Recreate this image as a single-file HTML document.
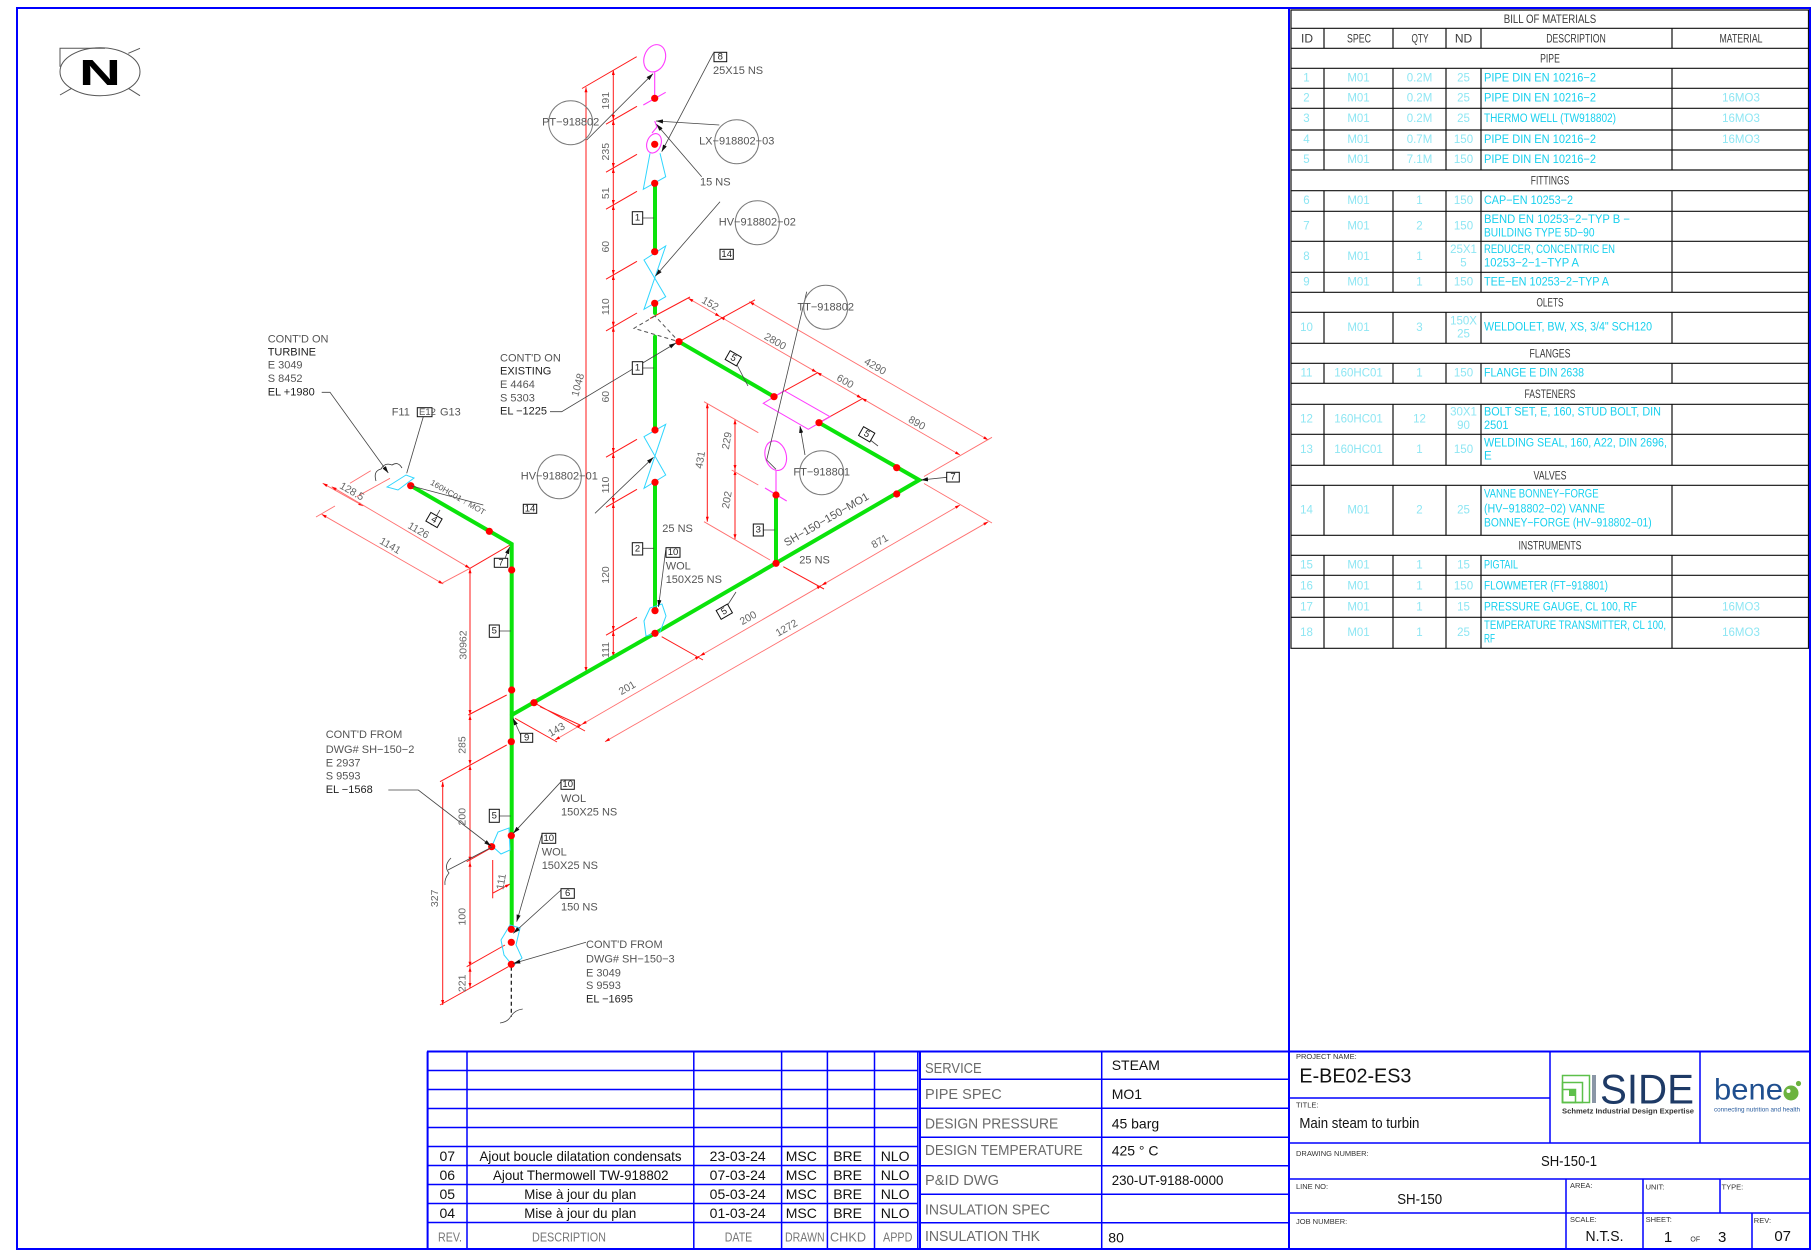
<!DOCTYPE html>
<html><head><meta charset="utf-8"><style>
html,body{margin:0;padding:0;background:#fff;}
svg{display:block;}
.g{stroke:#0be30b;stroke-width:4;fill:none;stroke-linecap:round}
.r{stroke:#ff1a1a;stroke-width:1;fill:none}
.rl{stroke:#ff7070;stroke-width:.9;fill:none}
.rd{marker-start:url(#ra);marker-end:url(#ra)}
.c{stroke:#2fd6ff;stroke-width:1;fill:none}
.m{stroke:#ff3cff;stroke-width:1.1;fill:none}
.k{stroke:#444;stroke-width:.8;fill:none}
.ka{marker-end:url(#ka)}
.bu{stroke:#7a7a7a;stroke-width:1;fill:none}
.bx{stroke:#111;stroke-width:1;fill:#fff}
.bl{stroke:#0000ff;stroke-width:1.5;fill:none}
.bb{stroke:#0000ff;stroke-width:2;fill:none}
.tl{stroke:#111;stroke-width:1.2;fill:none}
text{font-family:"Liberation Sans",sans-serif;dominant-baseline:central}
.t{font-size:11px;fill:#555}
.tk{font-size:11px;fill:#222}
.dt{font-size:10.5px;fill:#666;text-anchor:middle}
.nb{font-size:9.5px;fill:#222;text-anchor:middle}
.bh{font-size:12px;fill:#3a3a3a;text-anchor:middle}
.bv{font-size:11.5px;fill:#8ee6f3;text-anchor:middle}
.bd{font-size:11.5px;fill:#18d0ee}
.sl{font-size:15px;fill:#6a6a6a}
.sv{font-size:14px;fill:#111}
.rv{font-size:14px;fill:#111}
.rh{font-size:12.5px;fill:#777;text-anchor:middle}
.sm{font-size:7.5px;fill:#333}
</style></head><body>
<svg width="1813" height="1255" viewBox="0 0 1813 1255" xmlns="http://www.w3.org/2000/svg">
<defs>
<marker id="ka" viewBox="0 0 10 6" refX="10" refY="3" markerWidth="7" markerHeight="4.2" orient="auto-start-reverse" markerUnits="userSpaceOnUse"><path d="M0,0L10,3L0,6Z" fill="#111"/></marker>
<marker id="ra" viewBox="0 0 10 6" refX="10" refY="3" markerWidth="6" markerHeight="3" orient="auto-start-reverse" markerUnits="userSpaceOnUse"><path d="M0,0L10,3L0,6Z" fill="#f00"/></marker>
</defs>
<rect x="0" y="0" width="1813" height="1255" fill="#fff"/>

<!-- North symbol -->
<ellipse cx="100" cy="71.7" rx="40" ry="24" fill="none" stroke="#555" stroke-width="1"/>
<path d="M60,66.7V48.3H105M128.3,53.3L140,48.3M60,95L71.7,88.3M128.3,88.3L140,95.7" stroke="#555" fill="none" stroke-width="1"/>
<text x="79" y="72.5" font-size="36" font-weight="bold" fill="#000" textLength="42" lengthAdjust="spacingAndGlyphs">N</text>

<!-- ============ RED DIMENSIONS ============ -->
<path class="r rd" d="M586,87.3V672"/>
<path class="r rd" d="M613.3,70V120"/><path class="r rd" d="M613.3,120V168"/><path class="r rd" d="M613.3,168V205"/>
<path class="r rd" d="M613.3,205V275"/><path class="r rd" d="M613.3,275V326.7"/><path class="r rd" d="M613.3,326.7V453"/>
<path class="r rd" d="M613.3,453V503"/><path class="r rd" d="M613.3,503V631"/><path class="r rd" d="M613.3,631V657"/>
<path class="r" d="M582,88.5L636.7,56.7M606,124.2L637,106.3M606,172.2L637,154.3M606,209.2L637,191.3M606,279.2L637,261.3M606,330.9L637,313M606,457.2L637,439.3M606,507.2L637,489.3M606,635.2L637,617.3"/>
<!-- loop dims -->
<path class="rl rd" d="M688.3,298.3L720,316.6"/><path class="rl rd" d="M720,316.6L816.7,372.3"/><path class="rl rd" d="M816.7,372.3L861.7,398.2"/><path class="rl rd" d="M861.7,398.2L960,455"/>
<path class="rl rd" d="M749.3,301.7L988.3,440"/>
<path class="r" d="M650,318.5L690,297M679,341.7L755,299.8M774,396.7L818,372.5M819,422.7L863,398.3"/>
<path class="rl" d="M924,476.5L992,437.3M924,483.5L992,523"/>
<path class="rl rd" d="M555,740L581.7,724.5"/><path class="rl rd" d="M581.7,724.5L700,655.9"/><path class="rl rd" d="M700,655.9L821.7,585.3"/><path class="rl rd" d="M821.7,585.3L960,505"/>
<path class="rl rd" d="M605,741.7L988.3,521.7"/>
<path class="r" d="M515,718.3L557,742M534,702.7L585,731M661.7,636.7L703,660M783.3,566.7L824,589M540,706.7L580,725"/>
<!-- 431 / 229 / 202 -->
<path class="r rd" d="M707.3,403.3V521.7"/><path class="r rd" d="M735,419.3V470"/><path class="r rd" d="M735,470V539.3"/>
<path class="rl" d="M704,401.7L758.3,432.7M704,521.7L770,560M731.7,470L758.3,485"/>
<!-- left branch dims -->
<path class="rl rd" d="M322.7,483.3L363.3,506"/>
<path class="rl rd" d="M331.7,486.7L470,568.3"/>
<path class="rl rd" d="M321.7,514.3L443.3,584"/>
<path class="rl" d="M350,483.3L370.7,470.7M356.7,496.7L390,478.3M441.7,583.3L470,568.3M316,517L335,506"/>
<path class="r" d="M470,568.3L511.7,544"/>
<path class="r rd" d="M470,568.3V715"/><path class="r rd" d="M470,715V765"/><path class="r rd" d="M470,765V861.7"/><path class="r rd" d="M470,861.7V966.7"/><path class="r rd" d="M470,966.7V988"/>
<path class="r rd" d="M442.7,781.7V1005"/>
<path class="r" d="M468.3,715L506.7,695M440,781.7L506.7,745M466.7,861.7L493.3,846.7M466.7,966.7L505,945M440,1005L508.3,966.7"/>
<path class="r" d="M492.7,860V898.3"/><path class="r" d="M493,893L510,884" marker-end="url(#ra)"/>

<!-- ============ PIPES ============ -->
<path class="g" d="M655,183.3V251.7M655,303.3V313M655,336.7V430M655,482.3V610.7M679,341.7L774,396.7M819,422.7L919.3,480L655,633.3L511.7,715M410.7,485.7L511.7,544V929.3M776,495V563.3"/>
<!-- tee dashed -->
<path d="M655,316L634,328.3L679,341.7Z" stroke="#555" stroke-width="1" stroke-dasharray="4,3" fill="none"/>
<!-- cyan fittings -->
<path class="c" d="M650,153.3L643.3,189.3L665.7,176.7L660,153.3"/>
<path class="c" d="M644,260L665.7,246L644,309.3L665.7,296.7Z"/>
<path class="c" d="M644,436.7L665.7,424.3L644,488.3L665.7,475Z"/>
<path class="c" d="M646,636L644,621L650,608L662,604L666,616L660,632Z"/>
<path class="c" d="M387,487L406,475L414,478L398,490Z"/>
<path class="c" d="M492,846L498,832L509,828L510,850L501,854Z"/>
<path class="c" d="M501,940L510,925L520,928L516,945L522,958L513,966L504,955Z"/>
<!-- magenta instruments -->
<ellipse class="m" cx="654.7" cy="58.3" rx="10.5" ry="14" transform="rotate(20 654.7 58.3)"/>
<path class="m" d="M654.7,72.3V98.3M643.3,105L665.7,92.3"/>
<ellipse class="m" cx="654" cy="143.3" rx="7" ry="10" transform="rotate(20 654 143.3)"/>
<path class="m" d="M654.7,121L657,127L652,133"/>
<path class="m" d="M763.3,403.3L784.3,390.7L830,416.7L808.3,429.3Z"/>
<ellipse class="m" cx="775.7" cy="455.7" rx="10.5" ry="15" transform="rotate(-15 775.7 455.7)"/>
<path class="m" d="M776,470.7V495M765,488L786.7,501"/>
<!-- weld cloud -->
<path d="M376,481Q373,471 381,469Q385,462 392,465Q398,461 402,468" stroke="#333" stroke-width=".8" fill="none"/>
<!-- dashed end + break -->
<path d="M511.3,966.7V1016.7" stroke="#111" stroke-width="1.2" stroke-dasharray="4,3"/>
<path d="M500,1023Q508,1022 511,1016Q515,1010 522.7,1009" stroke="#444" stroke-width=".8" fill="none"/>
<path d="M451,858Q443,866 449,873Q444,879 445,885" stroke="#444" stroke-width=".8" fill="none"/>

<!-- red dots -->
<g fill="#ff0000">
<circle cx="654.7" cy="98.3" r="3.6"/><circle cx="654.7" cy="144.3" r="3.6"/><circle cx="654.7" cy="183.3" r="3.6"/>
<circle cx="654.7" cy="251.7" r="3.6"/><circle cx="654.7" cy="303.3" r="3.6"/><circle cx="679" cy="341.7" r="3.6"/>
<circle cx="774" cy="396.7" r="3.6"/><circle cx="819" cy="422.7" r="3.6"/><circle cx="896.7" cy="467.7" r="3.6"/>
<circle cx="896.7" cy="494" r="3.6"/><circle cx="776" cy="495" r="3.6"/><circle cx="776" cy="563.3" r="3.6"/>
<circle cx="655" cy="430" r="3.6"/><circle cx="655" cy="482.3" r="3.6"/><circle cx="655" cy="610.7" r="3.6"/>
<circle cx="655" cy="633.3" r="3.6"/><circle cx="534" cy="702.7" r="3.6"/><circle cx="410.7" cy="485.7" r="3.6"/>
<circle cx="489.3" cy="531.3" r="3.6"/><circle cx="511.7" cy="570" r="3.6"/><circle cx="511.7" cy="690" r="3.6"/>
<circle cx="511.3" cy="741.7" r="3.6"/><circle cx="511.3" cy="835.7" r="3.6"/><circle cx="491.7" cy="846.7" r="3.6"/>
<circle cx="511.3" cy="929.3" r="3.6"/><circle cx="511.3" cy="942.3" r="3.6"/><circle cx="511.3" cy="964.3" r="3.6"/>
</g>

<!-- leaders -->
<path class="k ka" d="M586.7,140L653,73.7"/>
<path class="k ka" d="M713.3,53.3L661.7,151.7"/>
<path class="k ka" d="M719.3,125L656,121"/>
<path class="k ka" d="M701.7,176.7L656.5,124.3"/>
<path class="k ka" d="M720,201.7L655.5,276"/>
<path class="k ka" d="M550,411.7H561.7L676,343"/>
<path class="k ka" d="M595,513.3L653.5,457.3"/>
<path class="k" d="M806.7,291.7L766.7,460L776,469.3"/>
<path class="k ka" d="M805,455L800,426"/>
<path class="k ka" d="M946.7,477.3L921,480"/>
<path class="k ka" d="M665.7,550L658.5,607"/>
<path class="k ka" d="M520.7,735L513,718.3"/>
<path class="k ka" d="M505,558.3L509.7,547"/>
<path class="k ka" d="M321.7,392.3H330L388.3,473"/>
<path class="k" d="M423.3,416.7L406.7,473.3"/>
<path class="k" d="M410.7,485.7L483.3,505"/>
<path class="k ka" d="M388.3,790H418.3L491,846"/>
<path class="k ka" d="M561,781.7L513.3,833.3"/>
<path class="k ka" d="M541.7,835L516.7,921.7"/>
<path class="k ka" d="M561,890L513.3,933.3"/>
<path class="k ka" d="M586,942.3L513.3,963.5"/>
<path class="k" d="M448,870L492,847"/>
<path class="k" d="M642.7,218H654M642.7,368H654M642.7,548.3H654M763.3,530H775M499.3,631H511M499.3,816H511M736,363L748,386M869,439L878,446M727,606L736,592M431,525L440,510"/>

<!-- bubbles -->
<g class="bu"><circle cx="570.7" cy="122.7" r="22"/><circle cx="736.7" cy="141.7" r="22"/><circle cx="757.3" cy="222.7" r="22"/><circle cx="825.7" cy="307.3" r="22"/><circle cx="559.3" cy="476.7" r="22"/><circle cx="821.7" cy="472.7" r="22"/></g>
<g class="t" text-anchor="middle">
<text x="570.7" y="122.7">PT−918802</text><text x="736.7" y="141.7">LX−918802−03</text><text x="757.3" y="222.7">HV−918802−02</text>
<text x="825.7" y="307.3">TT−918802</text><text x="559.3" y="476.7">HV−918802−01</text><text x="821.7" y="472.7">FT−918801</text>
</g>

<!-- number boxes -->
<g>
<rect class="bx" x="714" y="52.3" width="12.7" height="9.4"/><text class="nb" x="720.3" y="57">8</text>
<rect class="bx" x="720" y="249.3" width="13.3" height="10"/><text class="nb" x="726.7" y="254.3">14</text>
<rect class="bx" x="632.3" y="211.7" width="10.4" height="12.6"/><text class="nb" x="637.5" y="218">1</text>
<rect class="bx" x="632.3" y="361.7" width="10.4" height="12.6"/><text class="nb" x="637.5" y="368">1</text>
<rect class="bx" x="523.3" y="504.3" width="13.4" height="9"/><text class="nb" x="530" y="508.8">14</text>
<rect class="bx" x="632.3" y="542.7" width="10.4" height="12.3"/><text class="nb" x="637.5" y="548.8">2</text>
<rect class="bx" x="666" y="547.7" width="14" height="9.6"/><text class="nb" x="673" y="552.5">10</text>
<rect class="bx" x="753.3" y="524" width="10" height="12"/><text class="nb" x="758.3" y="530">3</text>
<rect class="bx" x="946.7" y="472.3" width="12.6" height="9.7"/><text class="nb" x="953" y="477.2">7</text>
<rect class="bx" x="494.3" y="558.3" width="13.4" height="9"/><text class="nb" x="501" y="562.8">7</text>
<rect class="bx" x="489.3" y="625" width="10" height="12.3"/><text class="nb" x="494.3" y="631.2">5</text>
<rect class="bx" x="520.7" y="733.3" width="12" height="9"/><text class="nb" x="526.7" y="737.8">9</text>
<rect class="bx" x="489.3" y="809.3" width="10" height="13"/><text class="nb" x="494.3" y="815.8">5</text>
<rect class="bx" x="561" y="780" width="13.3" height="9.3"/><text class="nb" x="567.7" y="784.7">10</text>
<rect class="bx" x="542" y="833.3" width="13.7" height="10"/><text class="nb" x="548.8" y="838.3">10</text>
<rect class="bx" x="561" y="888.7" width="13.3" height="9.6"/><text class="nb" x="567.7" y="893.5">6</text>
<rect class="bx" x="417.3" y="407.7" width="14.7" height="9"/>
<g transform="rotate(30 733.3 358.3)"><rect class="bx" x="726.8" y="353.3" width="13" height="10"/><text class="nb" x="733.3" y="358.3">5</text></g>
<g transform="rotate(30 866.7 434.3)"><rect class="bx" x="860.2" y="429.3" width="13" height="10"/><text class="nb" x="866.7" y="434.3">5</text></g>
<g transform="rotate(-30 724.3 611.7)"><rect class="bx" x="717.8" y="606.7" width="13" height="10"/><text class="nb" x="724.3" y="611.7">5</text></g>
<g transform="rotate(30 434 520)"><rect class="bx" x="427.5" y="515" width="13" height="10"/><text class="nb" x="434" y="520">4</text></g>
</g>

<!-- labels -->
<g class="t">
<text x="713" y="71">25X15  NS</text>
<text x="700" y="182.3">15  NS</text>
<text x="662.3" y="529">25  NS</text>
<text x="665.7" y="566.7">WOL</text><text x="665.7" y="580">150X25  NS</text>
<text x="799.3" y="560.7">25  NS</text>
<text x="561" y="799">WOL</text><text x="561" y="812.3">150X25  NS</text>
<text x="541.7" y="852.7">WOL</text><text x="541.7" y="866">150X25  NS</text>
<text x="561" y="907.3">150  NS</text>
<text x="391.7" y="412.3">F11</text><text x="419" y="412.3" font-size="9.5">E12</text><text x="440" y="412.3">G13</text>
<text x="267.7" y="339.3">CONT'D  ON</text><text x="267.7" y="352.7" fill="#222">TURBINE</text><text x="267.7" y="365.7">E  3049</text><text x="267.7" y="379">S  8452</text><text x="267.7" y="392.3" fill="#222">EL  +1980</text>
<text x="500" y="358.3">CONT'D  ON</text><text x="500" y="371.7" fill="#222">EXISTING</text><text x="500" y="385">E  4464</text><text x="500" y="398.3">S  5303</text><text x="500" y="411.7" fill="#222">EL  −1225</text>
<text x="325.7" y="735">CONT'D  FROM</text><text x="325.7" y="750">DWG#  SH−150−2</text><text x="325.7" y="763.3">E  2937</text><text x="325.7" y="776.7">S  9593</text><text x="325.7" y="790" fill="#222">EL  −1568</text>
<text x="586" y="945">CONT'D  FROM</text><text x="586" y="959.3">DWG#  SH−150−3</text><text x="586" y="973.3">E  3049</text><text x="586" y="986">S  9593</text><text x="586" y="999.3" fill="#222">EL  −1695</text>
<text x="826.7" y="520" text-anchor="middle" transform="rotate(-30 826.7 520)" textLength="96" lengthAdjust="spacingAndGlyphs">SH−150−150−MO1</text>
<text x="431" y="482" font-size="8" transform="rotate(30 431 482)" textLength="62" lengthAdjust="spacingAndGlyphs">160HC01 ↑ MOT</text>
</g>

<!-- dimension texts -->
<g class="dt">
<text x="606" y="100.7" transform="rotate(-90 606 100.7)">191</text>
<text x="606" y="151.7" transform="rotate(-90 606 151.7)">235</text>
<text x="606" y="193.3" transform="rotate(-90 606 193.3)">51</text>
<text x="606" y="246.7" transform="rotate(-90 606 246.7)">60</text>
<text x="606" y="306.7" transform="rotate(-90 606 306.7)">110</text>
<text x="606" y="396.7" transform="rotate(-90 606 396.7)">60</text>
<text x="606" y="485" transform="rotate(-90 606 485)">110</text>
<text x="606" y="575" transform="rotate(-90 606 575)">120</text>
<text x="606" y="650" transform="rotate(-90 606 650)">111</text>
<text x="578.3" y="385" transform="rotate(-75 578.3 385)">1048</text>
<text x="700.7" y="460" transform="rotate(-80 700.7 460)">431</text>
<text x="727.3" y="440.7" transform="rotate(-80 727.3 440.7)">229</text>
<text x="727.3" y="500" transform="rotate(-80 727.3 500)">202</text>
<text x="463.3" y="645" transform="rotate(-90 463.3 645)">30962</text>
<text x="462.7" y="745" transform="rotate(-90 462.7 745)">285</text>
<text x="462.7" y="816.7" transform="rotate(-90 462.7 816.7)">200</text>
<text x="462.7" y="916.7" transform="rotate(-90 462.7 916.7)">100</text>
<text x="462.7" y="983.3" transform="rotate(-90 462.7 983.3)">221</text>
<text x="435" y="898.3" transform="rotate(-90 435 898.3)">327</text>
<text x="501.7" y="881.7" transform="rotate(-80 501.7 881.7)">111</text>
<text x="710" y="304" transform="rotate(30 710 304)">152</text>
<text x="775" y="341.7" transform="rotate(30 775 341.7)">2800</text>
<text x="875" y="366.7" transform="rotate(30 875 366.7)">4290</text>
<text x="845" y="381.7" transform="rotate(30 845 381.7)">600</text>
<text x="916.7" y="423.3" transform="rotate(30 916.7 423.3)">890</text>
<text x="351.7" y="491.7" transform="rotate(30 351.7 491.7)">128.5</text>
<text x="418.3" y="530.7" transform="rotate(30 418.3 530.7)">1126</text>
<text x="390" y="546" transform="rotate(30 390 546)">1141</text>
<text x="880" y="541.7" transform="rotate(-30 880 541.7)">871</text>
<text x="786.7" y="628.3" transform="rotate(-30 786.7 628.3)">1272</text>
<text x="748.3" y="618.3" transform="rotate(-30 748.3 618.3)">200</text>
<text x="627.3" y="688.3" transform="rotate(-30 627.3 688.3)">201</text>
<text x="556.7" y="730" transform="rotate(-30 556.7 730)">143</text>
</g>

<!-- ============ BILL OF MATERIALS ============ -->
<g class="tl">
<path d="M1291,10H1808.5V648.3H1291Z"/>
<path d="M1291,28.3H1808.5M1291,48.3H1808.5M1291,68.3H1808.5M1291,88.3H1808.5M1291,108.3H1808.5M1291,130H1808.5M1291,150H1808.5M1291,170H1808.5M1291,190.7H1808.5M1291,211.3H1808.5M1291,241.3H1808.5M1291,272.3H1808.5M1291,292.3H1808.5M1291,312.3H1808.5M1291,343.3H1808.5M1291,363.3H1808.5M1291,383.3H1808.5M1291,404.3H1808.5M1291,434.3H1808.5M1291,465.3H1808.5M1291,485.3H1808.5M1291,535.3H1808.5M1291,555.3H1808.5M1291,575.3H1808.5M1291,597.3H1808.5M1291,617.3H1808.5"/>
<path d="M1324,28.3V48.3M1393,28.3V48.3M1446,28.3V48.3M1481,28.3V48.3M1672,28.3V48.3
M1324,68.3V170M1393,68.3V170M1446,68.3V170M1481,68.3V170M1672,68.3V170
M1324,190.7V292.3M1393,190.7V292.3M1446,190.7V292.3M1481,190.7V292.3M1672,190.7V292.3
M1324,312.3V343.3M1393,312.3V343.3M1446,312.3V343.3M1481,312.3V343.3M1672,312.3V343.3
M1324,363.3V383.3M1393,363.3V383.3M1446,363.3V383.3M1481,363.3V383.3M1672,363.3V383.3
M1324,404.3V465.3M1393,404.3V465.3M1446,404.3V465.3M1481,404.3V465.3M1672,404.3V465.3
M1324,485.3V535.3M1393,485.3V535.3M1446,485.3V535.3M1481,485.3V535.3M1672,485.3V535.3
M1324,555.3V648.3M1393,555.3V648.3M1446,555.3V648.3M1481,555.3V648.3M1672,555.3V648.3"/>
</g>
<g class="bh">
<text x="1550" y="18.8" textLength="92.5" lengthAdjust="spacingAndGlyphs">BILL  OF  MATERIALS</text>
<text x="1307" y="38.3">ID</text><text x="1359" y="38.3" textLength="24" lengthAdjust="spacingAndGlyphs">SPEC</text>
<text x="1420" y="38.3" textLength="17" lengthAdjust="spacingAndGlyphs">QTY</text><text x="1463.5" y="38.3">ND</text>
<text x="1576" y="38.3" textLength="59.6" lengthAdjust="spacingAndGlyphs">DESCRIPTION</text>
<text x="1741" y="38.3" textLength="43" lengthAdjust="spacingAndGlyphs">MATERIAL</text>
<text x="1550" y="58.3" textLength="19.7" lengthAdjust="spacingAndGlyphs">PIPE</text>
<text x="1550" y="180.3" textLength="38.4" lengthAdjust="spacingAndGlyphs">FITTINGS</text>
<text x="1550" y="302.3" textLength="27" lengthAdjust="spacingAndGlyphs">OLETS</text>
<text x="1550" y="353.3" textLength="41" lengthAdjust="spacingAndGlyphs">FLANGES</text>
<text x="1550" y="393.8" textLength="51" lengthAdjust="spacingAndGlyphs">FASTENERS</text>
<text x="1550" y="475.3" textLength="33" lengthAdjust="spacingAndGlyphs">VALVES</text>
<text x="1550" y="545.3" textLength="63" lengthAdjust="spacingAndGlyphs">INSTRUMENTS</text>
</g>
<g class="bv">
<text x="1306.5" y="78.3">1</text><text x="1358.5" y="78.3">M01</text><text x="1419.5" y="78.3">0.2M</text><text x="1463.5" y="78.3">25</text>
<text x="1306.5" y="98.3">2</text><text x="1358.5" y="98.3">M01</text><text x="1419.5" y="98.3">0.2M</text><text x="1463.5" y="98.3">25</text><text x="1741" y="98.3">16MO3</text>
<text x="1306.5" y="119.2">3</text><text x="1358.5" y="119.2">M01</text><text x="1419.5" y="119.2">0.2M</text><text x="1463.5" y="119.2">25</text><text x="1741" y="119.2">16MO3</text>
<text x="1306.5" y="140">4</text><text x="1358.5" y="140">M01</text><text x="1419.5" y="140">0.7M</text><text x="1463.5" y="140">150</text><text x="1741" y="140">16MO3</text>
<text x="1306.5" y="160">5</text><text x="1358.5" y="160">M01</text><text x="1419.5" y="160">7.1M</text><text x="1463.5" y="160">150</text>
<text x="1306.5" y="201">6</text><text x="1358.5" y="201">M01</text><text x="1419.5" y="201">1</text><text x="1463.5" y="201">150</text>
<text x="1306.5" y="226.3">7</text><text x="1358.5" y="226.3">M01</text><text x="1419.5" y="226.3">2</text><text x="1463.5" y="226.3">150</text>
<text x="1306.5" y="256.8">8</text><text x="1358.5" y="256.8">M01</text><text x="1419.5" y="256.8">1</text><text x="1463.5" y="250">25X1</text><text x="1463.5" y="263.3">5</text>
<text x="1306.5" y="282.3">9</text><text x="1358.5" y="282.3">M01</text><text x="1419.5" y="282.3">1</text><text x="1463.5" y="282.3">150</text>
<text x="1306.5" y="327.8">10</text><text x="1358.5" y="327.8">M01</text><text x="1419.5" y="327.8">3</text><text x="1463.5" y="321.7">150X</text><text x="1463.5" y="334.7">25</text>
<text x="1306.5" y="373.3">11</text><text x="1358.5" y="373.3">160HC01</text><text x="1419.5" y="373.3">1</text><text x="1463.5" y="373.3">150</text>
<text x="1306.5" y="419.3">12</text><text x="1358.5" y="419.3">160HC01</text><text x="1419.5" y="419.3">12</text><text x="1463.5" y="412.7">30X1</text><text x="1463.5" y="426">90</text>
<text x="1306.5" y="449.8">13</text><text x="1358.5" y="449.8">160HC01</text><text x="1419.5" y="449.8">1</text><text x="1463.5" y="449.8">150</text>
<text x="1306.5" y="510.3">14</text><text x="1358.5" y="510.3">M01</text><text x="1419.5" y="510.3">2</text><text x="1463.5" y="510.3">25</text>
<text x="1306.5" y="565.3">15</text><text x="1358.5" y="565.3">M01</text><text x="1419.5" y="565.3">1</text><text x="1463.5" y="565.3">15</text>
<text x="1306.5" y="586.3">16</text><text x="1358.5" y="586.3">M01</text><text x="1419.5" y="586.3">1</text><text x="1463.5" y="586.3">150</text>
<text x="1306.5" y="607.3">17</text><text x="1358.5" y="607.3">M01</text><text x="1419.5" y="607.3">1</text><text x="1463.5" y="607.3">15</text><text x="1741" y="607.3">16MO3</text>
<text x="1306.5" y="632.8">18</text><text x="1358.5" y="632.8">M01</text><text x="1419.5" y="632.8">1</text><text x="1463.5" y="632.8">25</text><text x="1741" y="632.8">16MO3</text>
</g>
<g class="bd">
<text x="1484" y="78.3" textLength="112" lengthAdjust="spacingAndGlyphs">PIPE  DIN  EN  10216−2</text>
<text x="1484" y="98.3" textLength="112" lengthAdjust="spacingAndGlyphs">PIPE  DIN  EN  10216−2</text>
<text x="1484" y="119.2" textLength="132" lengthAdjust="spacingAndGlyphs">THERMO  WELL  (TW918802)</text>
<text x="1484" y="140" textLength="112" lengthAdjust="spacingAndGlyphs">PIPE  DIN  EN  10216−2</text>
<text x="1484" y="160" textLength="112" lengthAdjust="spacingAndGlyphs">PIPE  DIN  EN  10216−2</text>
<text x="1484" y="201" textLength="89" lengthAdjust="spacingAndGlyphs">CAP−EN  10253−2</text>
<text x="1484" y="220" textLength="146" lengthAdjust="spacingAndGlyphs">BEND  EN  10253−2−TYP  B  −</text>
<text x="1484" y="233.3" textLength="110.5" lengthAdjust="spacingAndGlyphs">BUILDING  TYPE  5D−90</text>
<text x="1484" y="250" textLength="131" lengthAdjust="spacingAndGlyphs">REDUCER,  CONCENTRIC  EN</text>
<text x="1484" y="263.3" textLength="95" lengthAdjust="spacingAndGlyphs">10253−2−1−TYP  A</text>
<text x="1484" y="282.3" textLength="125" lengthAdjust="spacingAndGlyphs">TEE−EN  10253−2−TYP  A</text>
<text x="1484" y="327.3" textLength="168" lengthAdjust="spacingAndGlyphs">WELDOLET,  BW,  XS,  3/4"  SCH120</text>
<text x="1484" y="373.3" textLength="100" lengthAdjust="spacingAndGlyphs">FLANGE  E  DIN  2638</text>
<text x="1484" y="412.7" textLength="177" lengthAdjust="spacingAndGlyphs">BOLT  SET,  E,  160,  STUD  BOLT,  DIN</text>
<text x="1484" y="426" textLength="24.5" lengthAdjust="spacingAndGlyphs">2501</text>
<text x="1484" y="443.3" textLength="183" lengthAdjust="spacingAndGlyphs">WELDING  SEAL,  160,  A22,  DIN  2696,</text>
<text x="1484" y="456.7">E</text>
<text x="1484" y="494.3" textLength="114.6" lengthAdjust="spacingAndGlyphs">VANNE  BONNEY−FORGE</text>
<text x="1484" y="509.3" textLength="121" lengthAdjust="spacingAndGlyphs">(HV−918802−02)  VANNE</text>
<text x="1484" y="523.7" textLength="167.7" lengthAdjust="spacingAndGlyphs">BONNEY−FORGE  (HV−918802−01)</text>
<text x="1484" y="565.3" textLength="34" lengthAdjust="spacingAndGlyphs">PIGTAIL</text>
<text x="1484" y="586.3" textLength="124" lengthAdjust="spacingAndGlyphs">FLOWMETER  (FT−918801)</text>
<text x="1484" y="607.3" textLength="153" lengthAdjust="spacingAndGlyphs">PRESSURE  GAUGE,  CL  100,  RF</text>
<text x="1484" y="626" textLength="182" lengthAdjust="spacingAndGlyphs">TEMPERATURE  TRANSMITTER,  CL  100,</text>
<text x="1484" y="639.3" textLength="11" lengthAdjust="spacingAndGlyphs">RF</text>
</g>

<!-- ============ FRAME & BLOCKS ============ -->
<rect class="bb" x="17" y="8" width="1793" height="1241"/>
<path class="bb" d="M1289,8V1249M427,1051.5H1810M427.6,1051.5V1249M920,1051.5V1249"/>
<!-- revision table -->
<path class="bl" d="M467,1051.5V1248M693.8,1051.5V1248M781.6,1051.5V1248M827.4,1051.5V1248M874.5,1051.5V1248M917.8,1051.5V1248
M427.6,1070.5H917.8M427.6,1089.5H917.8M427.6,1108.5H917.8M427.6,1127.5H917.8M427.6,1146.5H917.8M427.6,1165.5H917.8M427.6,1184.5H917.8M427.6,1203.5H917.8M427.6,1222.5H917.8"/>
<g class="rv" text-anchor="middle">
<text x="447.3" y="1156">07</text><text x="580.5" y="1156" textLength="202" lengthAdjust="spacingAndGlyphs">Ajout boucle dilatation condensats</text><text x="737.7" y="1156">23-03-24</text>
<text x="447.3" y="1175">06</text><text x="580.8" y="1175" textLength="175.6" lengthAdjust="spacingAndGlyphs">Ajout Thermowell TW-918802</text><text x="737.7" y="1175">07-03-24</text>
<text x="447.3" y="1194">05</text><text x="580.3" y="1194" textLength="112" lengthAdjust="spacingAndGlyphs">Mise à jour du plan</text><text x="737.7" y="1194">05-03-24</text>
<text x="447.3" y="1213">04</text><text x="580.3" y="1213" textLength="112" lengthAdjust="spacingAndGlyphs">Mise à jour du plan</text><text x="737.7" y="1213">01-03-24</text>
</g>
<g class="rv">
<text x="785.7" y="1156">MSC</text><text x="833.2" y="1156">BRE</text><text x="880.7" y="1156">NLO</text>
<text x="785.7" y="1175">MSC</text><text x="833.2" y="1175">BRE</text><text x="880.7" y="1175">NLO</text>
<text x="785.7" y="1194">MSC</text><text x="833.2" y="1194">BRE</text><text x="880.7" y="1194">NLO</text>
<text x="785.7" y="1213">MSC</text><text x="833.2" y="1213">BRE</text><text x="880.7" y="1213">NLO</text>
</g>
<g class="rh">
<text x="450" y="1237.3" textLength="24" lengthAdjust="spacingAndGlyphs">REV.</text>
<text x="569" y="1237.3" textLength="74" lengthAdjust="spacingAndGlyphs">DESCRIPTION</text>
<text x="738.5" y="1237.3" textLength="27.5" lengthAdjust="spacingAndGlyphs">DATE</text>
<text x="804.8" y="1237.3" textLength="39.6" lengthAdjust="spacingAndGlyphs">DRAWN</text>
<text x="848" y="1237.3" textLength="36" lengthAdjust="spacingAndGlyphs">CHKD</text>
<text x="897.7" y="1237.3" textLength="29.4" lengthAdjust="spacingAndGlyphs">APPD</text>
</g>
<!-- service table -->
<path class="bl" d="M1101.7,1051.5V1248M920,1079.3H1289M920,1108.3H1289M920,1137.3H1289M920,1165.7H1289M920,1194.3H1289M920,1222.7H1289"/>
<g class="sl">
<text x="925" y="1068.3" textLength="56.7" lengthAdjust="spacingAndGlyphs">SERVICE</text>
<text x="925" y="1094.3" textLength="76.7" lengthAdjust="spacingAndGlyphs">PIPE  SPEC</text>
<text x="925" y="1124" textLength="133.3" lengthAdjust="spacingAndGlyphs">DESIGN  PRESSURE</text>
<text x="925" y="1150.7" textLength="157.7" lengthAdjust="spacingAndGlyphs">DESIGN  TEMPERATURE</text>
<text x="925" y="1180.7" textLength="74" lengthAdjust="spacingAndGlyphs">P&amp;ID  DWG</text>
<text x="925" y="1210" textLength="125" lengthAdjust="spacingAndGlyphs">INSULATION  SPEC</text>
<text x="925" y="1236.7" textLength="115" lengthAdjust="spacingAndGlyphs">INSULATION  THK</text>
</g>
<g class="sv">
<text x="1111.7" y="1065">STEAM</text>
<text x="1111.7" y="1094">MO1</text>
<text x="1111.7" y="1123.3">45 barg</text>
<text x="1111.7" y="1150.7">425 ° C</text>
<text x="1111.7" y="1180" textLength="111.7" lengthAdjust="spacingAndGlyphs">230-UT-9188-0000</text>
<text x="1108.3" y="1237.3">80</text>
</g>
<!-- title block -->
<path class="bl" d="M1289,1098H1550M1550,1051.5V1143M1700,1051.5V1143M1289,1143H1810M1289,1179H1810M1289,1213H1810M1566,1179V1249M1643,1179V1249M1720,1179V1213M1752,1213V1249"/>
<g class="sm">
<text x="1296" y="1056.7">PROJECT  NAME:</text>
<text x="1296" y="1105">TITLE:</text>
<text x="1296" y="1153.3">DRAWING  NUMBER:</text>
<text x="1296" y="1186.7">LINE  NO:</text>
<text x="1570" y="1185.5">AREA:</text>
<text x="1645.6" y="1187">UNIT:</text>
<text x="1721.5" y="1187">TYPE:</text>
<text x="1296" y="1221.7">JOB  NUMBER:</text>
<text x="1570" y="1219.3">SCALE:</text>
<text x="1645.6" y="1219.3">SHEET:</text>
<text x="1753.8" y="1220.7">REV:</text>
</g>
<text x="1299.4" y="1076.7" font-size="20" fill="#111" textLength="112" lengthAdjust="spacingAndGlyphs">E-BE02-ES3</text>
<text x="1299.4" y="1123.3" font-size="15" fill="#111" textLength="120" lengthAdjust="spacingAndGlyphs">Main steam to turbin</text>
<text x="1569" y="1161.7" font-size="15" fill="#111" text-anchor="middle" textLength="56" lengthAdjust="spacingAndGlyphs">SH-150-1</text>
<text x="1419.7" y="1199.3" font-size="15" fill="#111" text-anchor="middle" textLength="45" lengthAdjust="spacingAndGlyphs">SH-150</text>
<text x="1604.5" y="1236.7" font-size="15" fill="#111" text-anchor="middle" textLength="38" lengthAdjust="spacingAndGlyphs">N.T.S.</text>
<text x="1668" y="1237.5" font-size="15" fill="#111" text-anchor="middle">1</text>
<text x="1695.3" y="1240" font-size="7" fill="#333" text-anchor="middle">OF</text>
<text x="1722.2" y="1237.5" font-size="15" fill="#111" text-anchor="middle">3</text>
<text x="1782.7" y="1236.7" font-size="15" fill="#111" text-anchor="middle">07</text>
<!-- SIDE logo -->
<g fill="none" stroke="#5dc04a" stroke-width="1.5">
<rect x="1562.5" y="1075.5" width="27" height="27"/><rect x="1562.5" y="1082.5" width="20" height="20"/><rect x="1562.5" y="1089.5" width="13" height="13"/>
</g>
<rect x="1569" y="1090" width="6" height="6" fill="#5dc04a"/>
<rect x="1592" y="1075" width="4" height="28" fill="#8a96a6"/>
<text x="1600" y="1089" font-size="42" fill="#1e3a66" textLength="94" lengthAdjust="spacingAndGlyphs">SIDE</text>
<text x="1562" y="1112" font-size="7" font-weight="bold" fill="#333" textLength="132" lengthAdjust="spacingAndGlyphs">Schmetz Industrial Design Expertise</text>
<!-- beneo logo -->
<text x="1714" y="1090" font-size="30" fill="#1f4f8f" textLength="69" lengthAdjust="spacingAndGlyphs">bene</text>
<circle cx="1791" cy="1093" r="7.5" fill="#6cb33f"/><circle cx="1798.5" cy="1083.5" r="2.6" fill="#6cb33f"/>
<circle cx="1788.5" cy="1091" r="2" fill="#fff"/>
<text x="1714" y="1110" font-size="6.2" fill="#2a5d9f" textLength="86" lengthAdjust="spacingAndGlyphs">connecting nutrition and health</text>
</svg>
</body></html>
